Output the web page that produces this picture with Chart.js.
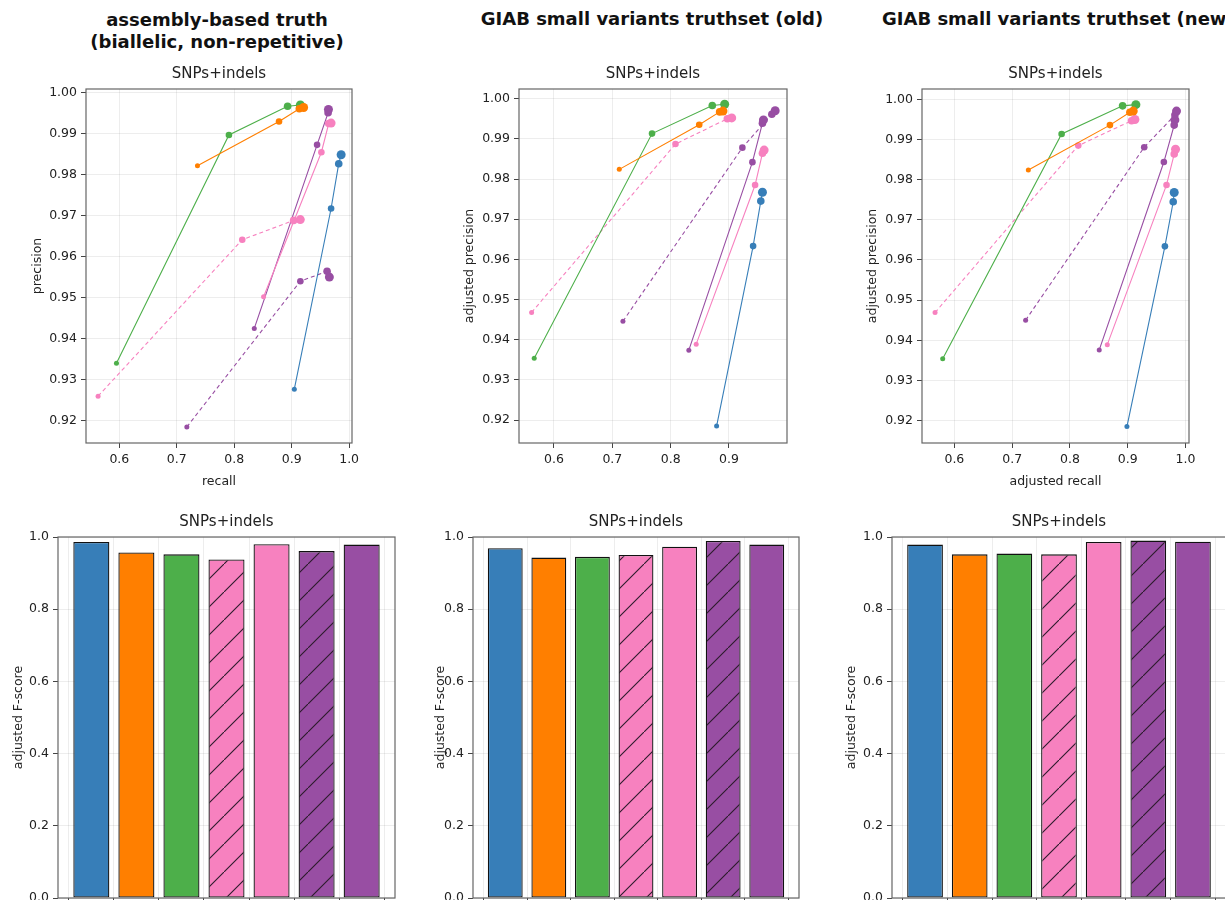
<!DOCTYPE html>
<html>
<head>
<meta charset="utf-8">
<script src="https://cdn.jsdelivr.net/npm/chart.js@4.4.1/dist/chart.umd.min.js"></script>
<style>
  html, body { margin: 0; padding: 0; }
  body { width: 1225px; height: 900px; overflow: hidden; background: #fff; position: relative; font-family: "DejaVu Sans", sans-serif; }
  canvas { position: absolute; }
  .suptitle { position: absolute; font-weight: bold; font-size: 18px; line-height: 22px; white-space: nowrap; color: #111; }
</style>
</head>
<body>
<div class="suptitle" style="left:17px;top:9px;width:400px;text-align:center;">assembly-based truth<br>(biallelic, non-repetitive)</div>
<div class="suptitle" style="left:452px;top:8px;width:400px;text-align:center;">GIAB small variants truthset (old)</div>
<div class="suptitle" style="left:882px;top:8px;">GIAB small variants truthset (new)</div>

<canvas id="scatterAsm"></canvas>
<canvas id="scatterOld"></canvas>
<canvas id="scatterNew"></canvas>
<canvas id="barAsm"></canvas>
<canvas id="barOld"></canvas>
<canvas id="barNew"></canvas>

<script>
// methods, in bar order: blue, orange, green, pink (dashed/hatched), pink, purple (dashed/hatched), purple
const METHOD_COLORS = ['#377eb8', '#ff7f00', '#4daf4a', '#f781bf', '#f781bf', '#984ea3', '#984ea3'];
const METHOD_DASHED = [false, false, false, true, false, true, false];
const MARKER_RADII = [2.5, 3.3, 3.8, 4.5];

// assembly-based truth
const asmRecall = [
  [0.9046, 0.9686, 0.9819, 0.9861],
  [0.7360, 0.8780, 0.9133, 0.9208],
  [0.5950, 0.7908, 0.8929, 0.9151],
  [0.5630, 0.8140, 0.9034, 0.9150],
  [0.8511, 0.9517, 0.9645, 0.9686],
  [0.7175, 0.9151, 0.9616, 0.9656],
  [0.8349, 0.9442, 0.9634, 0.9640]
];
const asmPrecision = [
  [0.9277, 0.9717, 0.9826, 0.9848],
  [0.9821, 0.9929, 0.9960, 0.9963],
  [0.9340, 0.9896, 0.9966, 0.9969],
  [0.9260, 0.9641, 0.9688, 0.9690],
  [0.9502, 0.9854, 0.9924, 0.9925],
  [0.9185, 0.9540, 0.9564, 0.9550],
  [0.9425, 0.9872, 0.9950, 0.9958]
];

// GIAB (old)
const oldRecall = [
  [0.8788, 0.9414, 0.9546, 0.9574],
  [0.7119, 0.8490, 0.8840, 0.8897],
  [0.5661, 0.7681, 0.8714, 0.8926],
  [0.5616, 0.8083, 0.8972, 0.9047],
  [0.8438, 0.9448, 0.9574, 0.9603],
  [0.7182, 0.9230, 0.9735, 0.9792],
  [0.8312, 0.9402, 0.9574, 0.9591]
];
const oldPrecision = [
  [0.9185, 0.9633, 0.9745, 0.9767],
  [0.9824, 0.9935, 0.9967, 0.9969],
  [0.9354, 0.9913, 0.9983, 0.9986],
  [0.9468, 0.9887, 0.9950, 0.9952],
  [0.9389, 0.9785, 0.9864, 0.9872],
  [0.9446, 0.9878, 0.9961, 0.9970],
  [0.9374, 0.9842, 0.9939, 0.9947]
];

// GIAB (new)
const newRecall = [
  [0.8986, 0.9643, 0.9787, 0.9804],
  [0.7280, 0.8692, 0.9037, 0.9095],
  [0.5798, 0.7856, 0.8911, 0.9141],
  [0.5666, 0.8144, 0.9066, 0.9124],
  [0.8646, 0.9671, 0.9804, 0.9827],
  [0.7233, 0.9285, 0.9816, 0.9844],
  [0.8507, 0.9625, 0.9804, 0.9816]
];
const newPrecision = [
  [0.9185, 0.9634, 0.9745, 0.9768],
  [0.9824, 0.9936, 0.9968, 0.9971],
  [0.9354, 0.9914, 0.9984, 0.9987],
  [0.9469, 0.9885, 0.9947, 0.9950],
  [0.9389, 0.9787, 0.9864, 0.9876],
  [0.9450, 0.9881, 0.9961, 0.9971],
  [0.9376, 0.9844, 0.9936, 0.9949]
];

// adjusted F-score per method
const asmFscore = [0.986, 0.957, 0.952, 0.938, 0.980, 0.961, 0.979];
const oldFscore = [0.969, 0.943, 0.945, 0.950, 0.973, 0.989, 0.979];
const newFscore = [0.979, 0.952, 0.954, 0.952, 0.986, 0.990, 0.987];

const PREC_TICKS = [0.92, 0.93, 0.94, 0.95, 0.96, 0.97, 0.98, 0.99, 1.00];
const RECALL_TICKS = [0.6, 0.7, 0.8, 0.9, 1.0];
const FSCORE_TICKS = [0, 0.2, 0.4, 0.6, 0.8, 1.0];
const BAR_POS = [0, 1, 2, 3, 4, 5, 6];

Chart.defaults.font.family = '"DejaVu Sans", sans-serif';
Chart.defaults.font.size = 12.5;
Chart.defaults.color = '#222';
Chart.defaults.animation = false;

const GRID = 'rgba(0,0,0,0.07)';
const TICK_MARK = '#444';

// axes box on all four sides
const framePlugin = {
  id: 'frame',
  afterDatasetsDraw(chart) {
    const { ctx, chartArea: a } = chart;
    ctx.save();
    ctx.strokeStyle = '#666';
    ctx.lineWidth = 1.2;
    ctx.strokeRect(a.left, a.top, a.right - a.left, a.bottom - a.top);
    ctx.restore();
  }
};

// subplot title, centred over the axes rather than the whole canvas
const axesTitlePlugin = {
  id: 'axesTitle',
  afterDraw(chart, args, opts) {
    const { ctx, chartArea: a } = chart;
    ctx.save();
    ctx.font = '15px "DejaVu Sans", sans-serif';
    ctx.fillStyle = '#222';
    ctx.textAlign = 'center';
    ctx.textBaseline = 'middle';
    ctx.fillText(opts.text, (a.left + a.right) / 2, a.top - 15);
    ctx.restore();
  }
};

function placeCanvas(id, left, top, width, height) {
  const c = document.getElementById(id);
  c.width = width; c.height = height;
  c.style.left = left + 'px'; c.style.top = top + 'px';
  c.style.width = width + 'px'; c.style.height = height + 'px';
  return c;
}

function fixedTicks(values) {
  return scale => { scale.ticks = values.map(v => ({ value: v })); };
}

function hatchFill(ctx, color) {
  const s = 28;
  const tile = document.createElement('canvas');
  tile.width = tile.height = s;
  const g = tile.getContext('2d');
  g.fillStyle = color;
  g.fillRect(0, 0, s, s);
  g.strokeStyle = '#2a1a2a';
  g.lineWidth = 1.1;
  g.beginPath();
  g.moveTo(-2, s + 2); g.lineTo(s + 2, -2);
  g.stroke();
  return ctx.createPattern(tile, 'repeat');
}

// area: plot rectangle in page pixels, canvasLeft: where the canvas starts
function drawScatter(id, area, xMin, xMax, yMin, yMax, recall, precision, xLabel, yLabel, yLabelX) {
  const top = 60;
  const c = placeCanvas(id, area.canvasLeft, top, area.r + 15 - area.canvasLeft, area.b + 50 - top);
  new Chart(c, {
    type: 'scatter',
    data: {
      datasets: recall.map((rs, i) => ({
        data: rs.map((r, j) => ({ x: r, y: precision[i][j] })),
        showLine: true,
        borderColor: METHOD_COLORS[i],
        backgroundColor: METHOD_COLORS[i],
        borderWidth: 1.1,
        borderDash: METHOD_DASHED[i] ? [4, 3] : [],
        pointRadius: MARKER_RADII,
        pointHoverRadius: MARKER_RADII,
        pointBorderWidth: 0
      }))
    },
    options: {
      responsive: false,
      layout: { padding: { left: 0, right: 15, top: 29, bottom: 0 } },
      plugins: {
        legend: { display: false },
        tooltip: { enabled: false },
        axesTitle: { text: 'SNPs+indels' }
      },
      scales: {
        x: {
          type: 'linear', min: xMin, max: xMax,
          afterBuildTicks: fixedTicks(RECALL_TICKS.filter(v => v <= xMax)),
          afterFit: s => { s.height = 50; },
          ticks: { padding: 4, callback: v => v.toFixed(1) },
          grid: { color: GRID, tickColor: TICK_MARK, tickLength: 5 },
          border: { display: false },
          title: { display: !!xLabel, text: xLabel, font: { size: 12.5 }, padding: { top: 0, bottom: 3.8 } }
        },
        y: {
          type: 'linear', min: yMin, max: yMax,
          afterBuildTicks: fixedTicks(PREC_TICKS),
          afterFit: s => { s.width = area.l - area.canvasLeft; },
          ticks: { padding: 4, callback: v => v.toFixed(2) },
          grid: { color: GRID, tickColor: TICK_MARK, tickLength: 5 },
          border: { display: false },
          title: { display: true, text: yLabel, font: { size: 12.5 }, padding: { top: yLabelX - area.canvasLeft - 7.5, bottom: 0 } }
        }
      }
    },
    plugins: [framePlugin, axesTitlePlugin]
  });
}

function drawBars(id, area, scores, yLabelX) {
  const top = 508;
  const c = placeCanvas(id, area.canvasLeft, top, area.r + 15 - area.canvasLeft, area.b + 40 - top);
  const ctx = c.getContext('2d');
  const fills = METHOD_COLORS.map((col, i) => METHOD_DASHED[i] ? hatchFill(ctx, col) : col);
  new Chart(c, {
    type: 'bar',
    data: {
      datasets: [{
        data: scores.map((v, i) => ({ x: BAR_POS[i], y: v })),
        backgroundColor: fills,
        borderColor: '#111',
        borderWidth: 1.3,
        borderSkipped: false,
        barPercentage: 0.8,
        categoryPercentage: 1
      }]
    },
    options: {
      responsive: false,
      layout: { padding: { left: 0, right: 15, top: 29, bottom: 0 } },
      plugins: {
        legend: { display: false },
        tooltip: { enabled: false },
        axesTitle: { text: 'SNPs+indels' }
      },
      scales: {
        x: {
          type: 'linear', min: -0.74, max: 6.74, offset: false,
          afterBuildTicks: fixedTicks(BAR_POS),
          afterFit: s => { s.height = 40; },
          ticks: { padding: 4, callback: () => '' },
          grid: { color: GRID, tickColor: TICK_MARK, tickLength: 5 },
          border: { display: false }
        },
        y: {
          min: 0, max: 1,
          afterBuildTicks: fixedTicks(FSCORE_TICKS),
          afterFit: s => { s.width = area.l - area.canvasLeft; },
          ticks: { padding: 4, callback: v => v.toFixed(1) },
          grid: { color: GRID, tickColor: TICK_MARK, tickLength: 5 },
          border: { display: false },
          title: { display: true, text: 'adjusted F-score', font: { size: 12.5 }, padding: { top: yLabelX - area.canvasLeft - 7.5, bottom: 0 } }
        }
      }
    },
    plugins: [framePlugin, axesTitlePlugin]
  });
}

drawScatter('scatterAsm', { canvasLeft: 0, l: 86, r: 352, b: 443 }, 0.542, 1.005, 0.9146, 1.0008,
  asmRecall, asmPrecision, 'recall', 'precision', 38);
drawScatter('scatterOld', { canvasLeft: 430, l: 519, r: 787, b: 443 }, 0.540, 0.9995, 0.9143, 1.0024,
  oldRecall, oldPrecision, '', 'adjusted precision', 470);
drawScatter('scatterNew', { canvasLeft: 840, l: 922, r: 1189, b: 443 }, 0.544, 1.006, 0.9144, 1.0026,
  newRecall, newPrecision, 'adjusted recall', 'adjusted precision', 873);

drawBars('barAsm', { canvasLeft: 0, l: 58, r: 395, b: 898 }, asmFscore, 19);
drawBars('barOld', { canvasLeft: 420, l: 473, r: 799, b: 898 }, oldFscore, 441);
drawBars('barNew', { canvasLeft: 835, l: 892, r: 1226, b: 898 }, newFscore, 852);
</script>
</body>
</html>
